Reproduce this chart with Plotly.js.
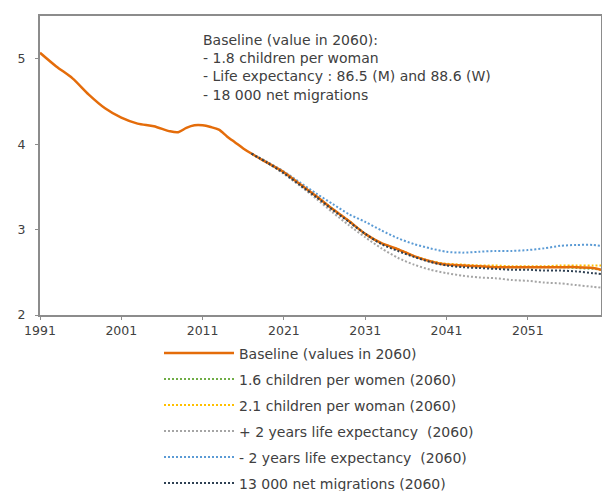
<!DOCTYPE html>
<html>
<head>
<meta charset="utf-8">
<script src="https://cdn.plot.ly/plotly-3.0.1.min.js"></script>
<style>html,body{margin:0;padding:0;background:#fff;}#chart{width:602px;height:491px;}</style>
</head>
<body>
<div id="chart"></div>
<script>
// Observed history (baseline)
const histYears  = [1991, 1993, 1995, 1997, 1999, 2001, 2003, 2005, 2007, 2008, 2009, 2010, 2011, 2012, 2013, 2014, 2015, 2016];
const histValues = [5.07, 4.91, 4.77, 4.58, 4.42, 4.31, 4.24, 4.21, 4.15, 4.14, 4.19, 4.22, 4.22, 4.20, 4.17, 4.09, 4.02, 3.95];

// Projections
const projYears = [2017, 2019, 2021, 2023, 2025, 2027, 2029, 2031, 2033, 2035, 2037, 2039, 2041, 2043, 2045, 2047, 2049, 2051, 2053, 2055, 2057, 2059, 2060];
const baselineProj = [3.89, 3.78, 3.67, 3.53, 3.39, 3.24, 3.10, 2.95, 2.84, 2.77, 2.69, 2.63, 2.59, 2.58, 2.57, 2.56, 2.56, 2.56, 2.56, 2.56, 2.56, 2.55, 2.53];
const fert16 = [3.89, 3.78, 3.67, 3.53, 3.39, 3.24, 3.10, 2.95, 2.84, 2.77, 2.69, 2.63, 2.59, 2.58, 2.57, 2.56, 2.56, 2.56, 2.56, 2.56, 2.55, 2.54, 2.53];
const fert21 = [3.89, 3.78, 3.67, 3.53, 3.39, 3.24, 3.10, 2.95, 2.84, 2.77, 2.69, 2.63, 2.60, 2.59, 2.58, 2.58, 2.57, 2.57, 2.57, 2.58, 2.58, 2.58, 2.58];
const lifePlus2 = [3.89, 3.78, 3.65, 3.51, 3.36, 3.20, 3.05, 2.91, 2.78, 2.67, 2.59, 2.53, 2.49, 2.46, 2.44, 2.43, 2.41, 2.40, 2.38, 2.37, 2.35, 2.33, 2.32];
const lifeMinus2 = [3.89, 3.79, 3.68, 3.55, 3.42, 3.30, 3.18, 3.09, 2.99, 2.90, 2.83, 2.78, 2.74, 2.73, 2.74, 2.75, 2.75, 2.76, 2.78, 2.81, 2.82, 2.82, 2.81];
const migr13 = [3.89, 3.78, 3.66, 3.52, 3.38, 3.23, 3.09, 2.95, 2.83, 2.75, 2.68, 2.62, 2.58, 2.56, 2.55, 2.54, 2.53, 2.53, 2.52, 2.52, 2.51, 2.49, 2.48];

const xTicks = [1991, 2001, 2011, 2021, 2031, 2041, 2051];
const yTicks = [2, 3, 4, 5];

const names = {
  base: 'Baseline (values in 2060)',
  f16: '1.6 children per women (2060)',
  f21: '2.1 children per woman (2060)',
  lp: '+ 2 years life expectancy  (2060)',
  lm: '- 2 years life expectancy  (2060)',
  mig: '13 000 net migrations (2060)'
};
const noteLines = ['Baseline (value in 2060):', '- 1.8 children per woman', '- Life expectancy : 86.5 (M) and 88.6 (W)', '- 18 000 net migrations'];

const FONT = 'DejaVu Sans, sans-serif';
const TXT = '#404040';
const dotStyle = '2px,2px';

function dotted(y, name, color, rank) {
  return {x: projYears, y: y, name: name, type: 'scatter', mode: 'lines',
    line: {color: color, width: 2, dash: dotStyle, shape: 'spline', smoothing: 0.8},
    legendrank: rank, legendgroup: 'g' + rank, hoverinfo: 'skip'};
}

const data = [
  dotted(fert16, names.f16, '#70AD47', 2),
  dotted(fert21, names.f21, '#FFC000', 3),
  dotted(lifePlus2, names.lp, '#A5A5A5', 4),
  dotted(lifeMinus2, names.lm, '#5B9BD5', 5),
  {x: histYears.concat(projYears), y: histValues.concat(baselineProj), name: names.base,
   type: 'scatter', mode: 'lines', line: {color: '#E46C0A', width: 2.5, shape: 'spline', smoothing: 0.8},
   legendrank: 1, legendgroup: 'g1', hoverinfo: 'skip'},
  dotted(migr13, names.mig, '#2E4053', 6)
];

const axisCommon = {showline: true, linecolor: '#8C8C8C', linewidth: 2, mirror: true,
  showgrid: false, zeroline: false, ticks: 'outside', ticklen: 3, tickcolor: '#8C8C8C', tickwidth: 1,
  tickfont: {family: FONT, size: 12.5, color: TXT}, automargin: false};

const layout = {
  width: 602, height: 491,
  margin: {l: 40, r: 1, t: 16, b: 176, pad: 0, autoexpand: false},
  paper_bgcolor: '#fff', plot_bgcolor: '#fff',
  font: {family: FONT, size: 14, color: TXT},
  xaxis: Object.assign({}, axisCommon, {range: [1991, 2060], tickvals: xTicks, ticktext: xTicks.map(String), tickangle: 0}),
  yaxis: Object.assign({}, axisCommon, {range: [2, 5.5], tickvals: yTicks, ticktext: yTicks.map(String), ticklabelstandoff: 7}),
  showlegend: true,
  legend: {xref: 'container', yref: 'container', x: 159 / 602, y: 1 - 337.5 / 491, xanchor: 'left', yanchor: 'top',
    font: {family: FONT, size: 14, color: TXT}, tracegroupgap: 4.8, itemwidth: 70, bgcolor: 'rgba(0,0,0,0)'},
  annotations: [{xref: 'paper', yref: 'paper', x: (201 - 40) / 561, y: (315 - 30) / 299, xanchor: 'left', yanchor: 'top',
    align: 'left', showarrow: false, text: noteLines.join('<br>'), font: {family: FONT, size: 14, color: TXT}}]
};

Plotly.newPlot('chart', data, layout, {displayModeBar: false, staticPlot: true});
</script>
</body>
</html>
